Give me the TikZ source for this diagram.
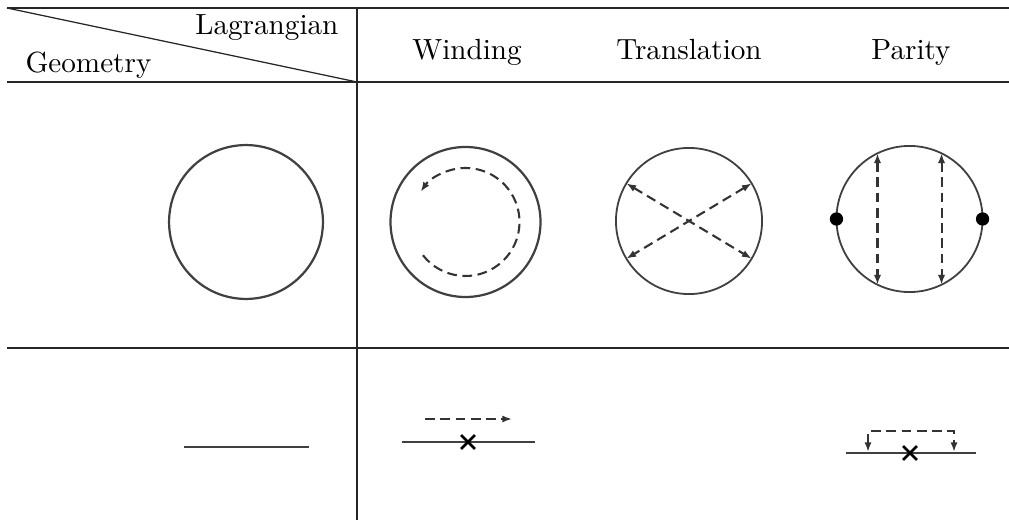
\documentclass[tikz,border=0pt]{standalone}
\usepackage{amsmath}
\usepackage{tikz}
\usetikzlibrary{shapes.misc, arrows.meta, calc}

\begin{document}
\begin{tikzpicture}[x=0.36pt, y=0.36pt,
    every node/.style={font=\fontsize{10.5}{12}\selectfont},
    head/.style={inner sep=0pt},
    rim/.style={circle, draw=black!75, line width=0.8pt, inner sep=0pt, outer sep=0pt},
    flow/.style={draw=black!80, line width=0.75pt, dash pattern=on 3.5pt off 2pt, {Latex[length=3.5pt,width=2.6pt]}-{Latex[length=3.5pt,width=2.6pt]}},
    defect/.style={cross out, draw=black, line width=1pt, minimum size=4pt, inner sep=0pt},
    wire/.style={draw=black!75, line width=0.8pt},
    grid/.style={draw=black!85, line width=0.45pt}]
    \useasboundingbox (0,0) rectangle (1009,521);
    % table
    \draw[grid] (7,513) -- (1009,513);
    \draw[grid] (7,439) -- (1009,439);
    \draw[grid] (7,173) -- (1009,173);
    \draw[grid] (357,513) -- (357,1);
    \draw[grid] (7,513) -- (357,439);
    \node[head, anchor=base east] (lag) at (339,486) {Lagrangian};
    \node[head, anchor=base west] (geom) at (25,448) {Geometry};
    \node[head, anchor=base] (wind) at (467,461) {Winding};
    \node[head, anchor=base] (trans) at (689,461) {Translation};
    \node[head, anchor=base] (par) at (911,461) {Parity};
    % circles
    \node[rim, minimum size=55.4pt] (geo) at (246,299) {};
    \node[rim, minimum size=54pt] (wd) at (465.5,299) {};
    \draw[flow, {}-{Latex[length=3.5pt,width=2.6pt]}] ($(wd.center)+(-142:54)$) arc[start angle=-142, end angle=146, radius=54];
    \node[rim, minimum size=52.6pt, line width=0.65pt] (tr) at (689,300) {};
    \draw[flow] (tr.149) -- (tr.-31);
    \draw[flow] (tr.31) -- (tr.-149);
    \node[rim, minimum size=52.6pt, line width=0.65pt] (pa) at (909.5,302) {};
    \draw[flow] (pa.116) -- (pa.-116);
    \draw[flow] (pa.64) -- (pa.-64);
    \node[circle, fill=black, minimum size=4.8pt, inner sep=0pt] (pl) at (pa.west) {};
    \node[circle, fill=black, minimum size=4.8pt, inner sep=0pt] (pr) at (pa.east) {};
    % lines
    \coordinate (ga) at (184,74);
    \coordinate (gb) at (309,74);
    \draw[wire] (ga) -- (gb);
    \coordinate (wa) at (402,79);
    \coordinate (wb) at (535,79);
    \draw[wire] (wa) -- (wb);
    \node[defect] (wx) at (468,79) {};
    \coordinate (fa) at (425,102);
    \coordinate (fb) at (512,102);
    \draw[flow, {}-{Latex[length=3.5pt,width=2.6pt]}] (fa) -- (fb);
    \coordinate (pa1) at (846,68);
    \coordinate (pb1) at (976,68);
    \draw[wire] (pa1) -- (pb1);
    \node[defect] (px) at (910,68) {};
    \coordinate (ja) at (868,69);
    \coordinate (jb) at (954,69);
    \draw[flow] (ja) -- ++(0,21) -| (jb);
\end{tikzpicture}
\end{document}
